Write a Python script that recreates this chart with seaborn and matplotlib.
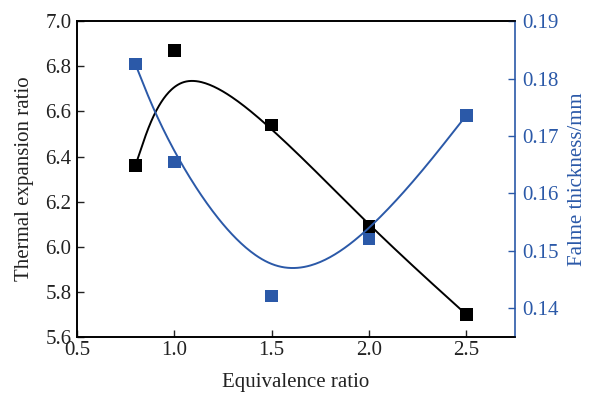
import numpy as np
import pandas as pd
import matplotlib
matplotlib.use("Agg")
import matplotlib.pyplot as plt
import seaborn as sns

# Data
phi = [0.8, 1.0, 1.5, 2.0, 2.5]
thermal_ratio = [6.36, 6.87, 6.54, 6.09, 5.70]
flame_thickness = [0.1825, 0.1655, 0.1422, 0.1521, 0.1736]
x_ticks = [0.5, 1.0, 1.5, 2.0, 2.5]
left_ticks = [5.6, 5.8, 6.0, 6.2, 6.4, 6.6, 6.8, 7.0]
right_ticks = [0.14, 0.15, 0.16, 0.17, 0.18, 0.19]

BLUE = "#2B59A8"


def bspline(xs, ys, n_seg=60):
    """Uniform cubic B-spline through tripled end points (smooth connect)."""
    P = np.column_stack([xs, ys]).astype(float)
    Q = np.vstack([P[0], P[0], P, P[-1], P[-1]])
    M = np.array([[-1, 3, -3, 1],
                  [3, -6, 3, 0],
                  [-3, 0, 3, 0],
                  [1, 4, 1, 0]]) / 6.0
    out = []
    for i in range(len(Q) - 3):
        G = Q[i:i + 4]
        t = np.linspace(0, 1, n_seg, endpoint=(i == len(Q) - 4))
        T = np.column_stack([t ** 3, t ** 2, t, np.ones_like(t)])
        out.append(T @ M @ G)
    C = np.vstack(out)
    return C[:, 0], C[:, 1]


sns.set_theme(style="ticks")
plt.rcParams["font.family"] = ["Liberation Serif", "DejaVu Serif"]

FS = 15

fig = plt.figure(figsize=(5.92, 3.98), dpi=100)
ax = fig.add_axes([0.130, 0.153, 0.740, 0.794])
ax2 = ax.twinx()

bx, by = bspline(phi, thermal_ratio)
cx, cy = bspline(phi, flame_thickness)

df1 = pd.DataFrame({"x": bx, "y": by})
df2 = pd.DataFrame({"x": cx, "y": cy})

sns.lineplot(data=df1, x="x", y="y", ax=ax, color="black", lw=1.4, sort=False)
sns.scatterplot(x=phi, y=thermal_ratio, ax=ax, marker="s", color="black", s=80,
                edgecolor="none", zorder=5)
sns.lineplot(data=df2, x="x", y="y", ax=ax2, color=BLUE, lw=1.4, sort=False)
sns.scatterplot(x=phi, y=flame_thickness, ax=ax2, marker="s", color=BLUE, s=80,
                edgecolor="none", zorder=5)

ax.set_xlim(0.5, 2.75)
ax.set_ylim(5.6, 7.0)
ax2.set_ylim(0.135, 0.19)
ax.set_xticks(x_ticks)
ax.set_xticklabels([f"{v:.1f}" for v in x_ticks])
ax.set_yticks(left_ticks)
ax.set_yticklabels([f"{v:.1f}" for v in left_ticks])
ax2.set_yticks(right_ticks)
ax2.set_yticklabels([f"{v:.2f}" for v in right_ticks])

ax.set_xlabel("Equivalence ratio", fontsize=FS, labelpad=9, color="#222222")
ax.set_ylabel("Thermal expansion ratio", fontsize=FS, labelpad=8, color="#222222")
ax2.set_ylabel("Falme thickness/mm", fontsize=FS, color=BLUE, labelpad=7)

ax.tick_params(axis="both", direction="in", length=5, width=1, labelsize=FS,
               colors="#222222", pad=4)
ax.tick_params(axis="x", pad=3)
ax2.tick_params(axis="y", direction="in", length=5, width=1, labelsize=FS,
                colors=BLUE, pad=5)

for a in (ax, ax2):
    for s in a.spines.values():
        s.set_visible(True)
        s.set_linewidth(1.2)
        s.set_color("black")
ax2.spines["right"].set_color(BLUE)
ax.spines["right"].set_visible(False)

fig.savefig("out.png", dpi=100)
